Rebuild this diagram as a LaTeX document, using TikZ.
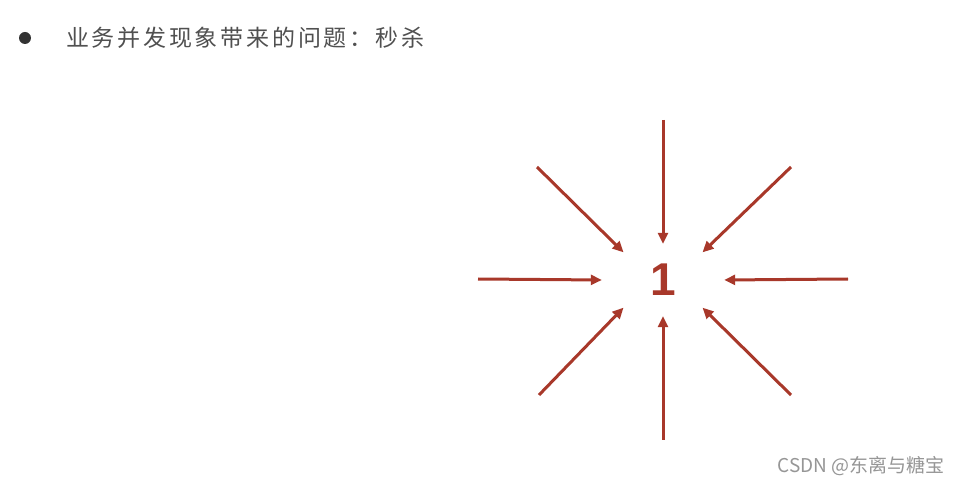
\documentclass[tikz,border=0pt]{standalone}
\usepackage{fontspec}
\usepackage{tikz}
\usetikzlibrary{arrows.meta,shapes.geometric}
\setmainfont{Liberation Sans}
\newfontfamily\cjk[LetterSpace=12]{Noto Sans CJK SC}
\newfontfamily\cjkmark{Noto Sans CJK SC}
\definecolor{spike}{RGB}{168,56,42}
\definecolor{titlegray}{RGB}{80,80,80}
\definecolor{markgray}{RGB}{150,150,150}
\tikzset{spikearrow/.style={draw=spike,line width=3pt,-{Triangle[length=11pt,width=10pt]}},
	target/.style={ellipse,minimum width=122pt,minimum height=72pt,inner sep=0pt},
	title/.style={anchor=west,inner sep=0pt,text=titlegray,font=\cjk\fontsize{23}{23}\selectfont}}

\begin{document}
\begin{tikzpicture}[x=1pt,y=-1pt]
	\useasboundingbox[fill=white] (0,0) rectangle (962,486);
	% heading
	\fill[black!80] (25,38) circle (6);
	\node[title] (head) at (66,38) {业务并发现象带来的问题：秒杀};
	% the one item everybody wants
	\node[target] (one) at (663,280)
		{\textcolor{spike}{\fontsize{46}{46}\selectfont\bfseries 1}};
	\coordinate (tN) at (663,120);
	\coordinate (tS) at (663,440);
	\coordinate (tW) at (478,279);
	\coordinate (tE) at (848,279);
	\coordinate (tNW) at (537,167);
	\coordinate (tNE) at (791,167);
	\coordinate (tSW) at (539,395);
	\coordinate (tSE) at (791,395);
	\foreach \from/\to in {tN/north,tS/south,tW/west,tE/east,
		tNW/145,tNE/35,tSW/215,tSE/325}
		\draw[spikearrow] (\from) -- (one.\to);
	% watermark
	\node[anchor=east,inner sep=0pt,text=markgray,font=\cjkmark\fontsize{19}{19}\selectfont]
		(mark) at (945,466) {CSDN @东离与糖宝};
\end{tikzpicture}
\end{document}
